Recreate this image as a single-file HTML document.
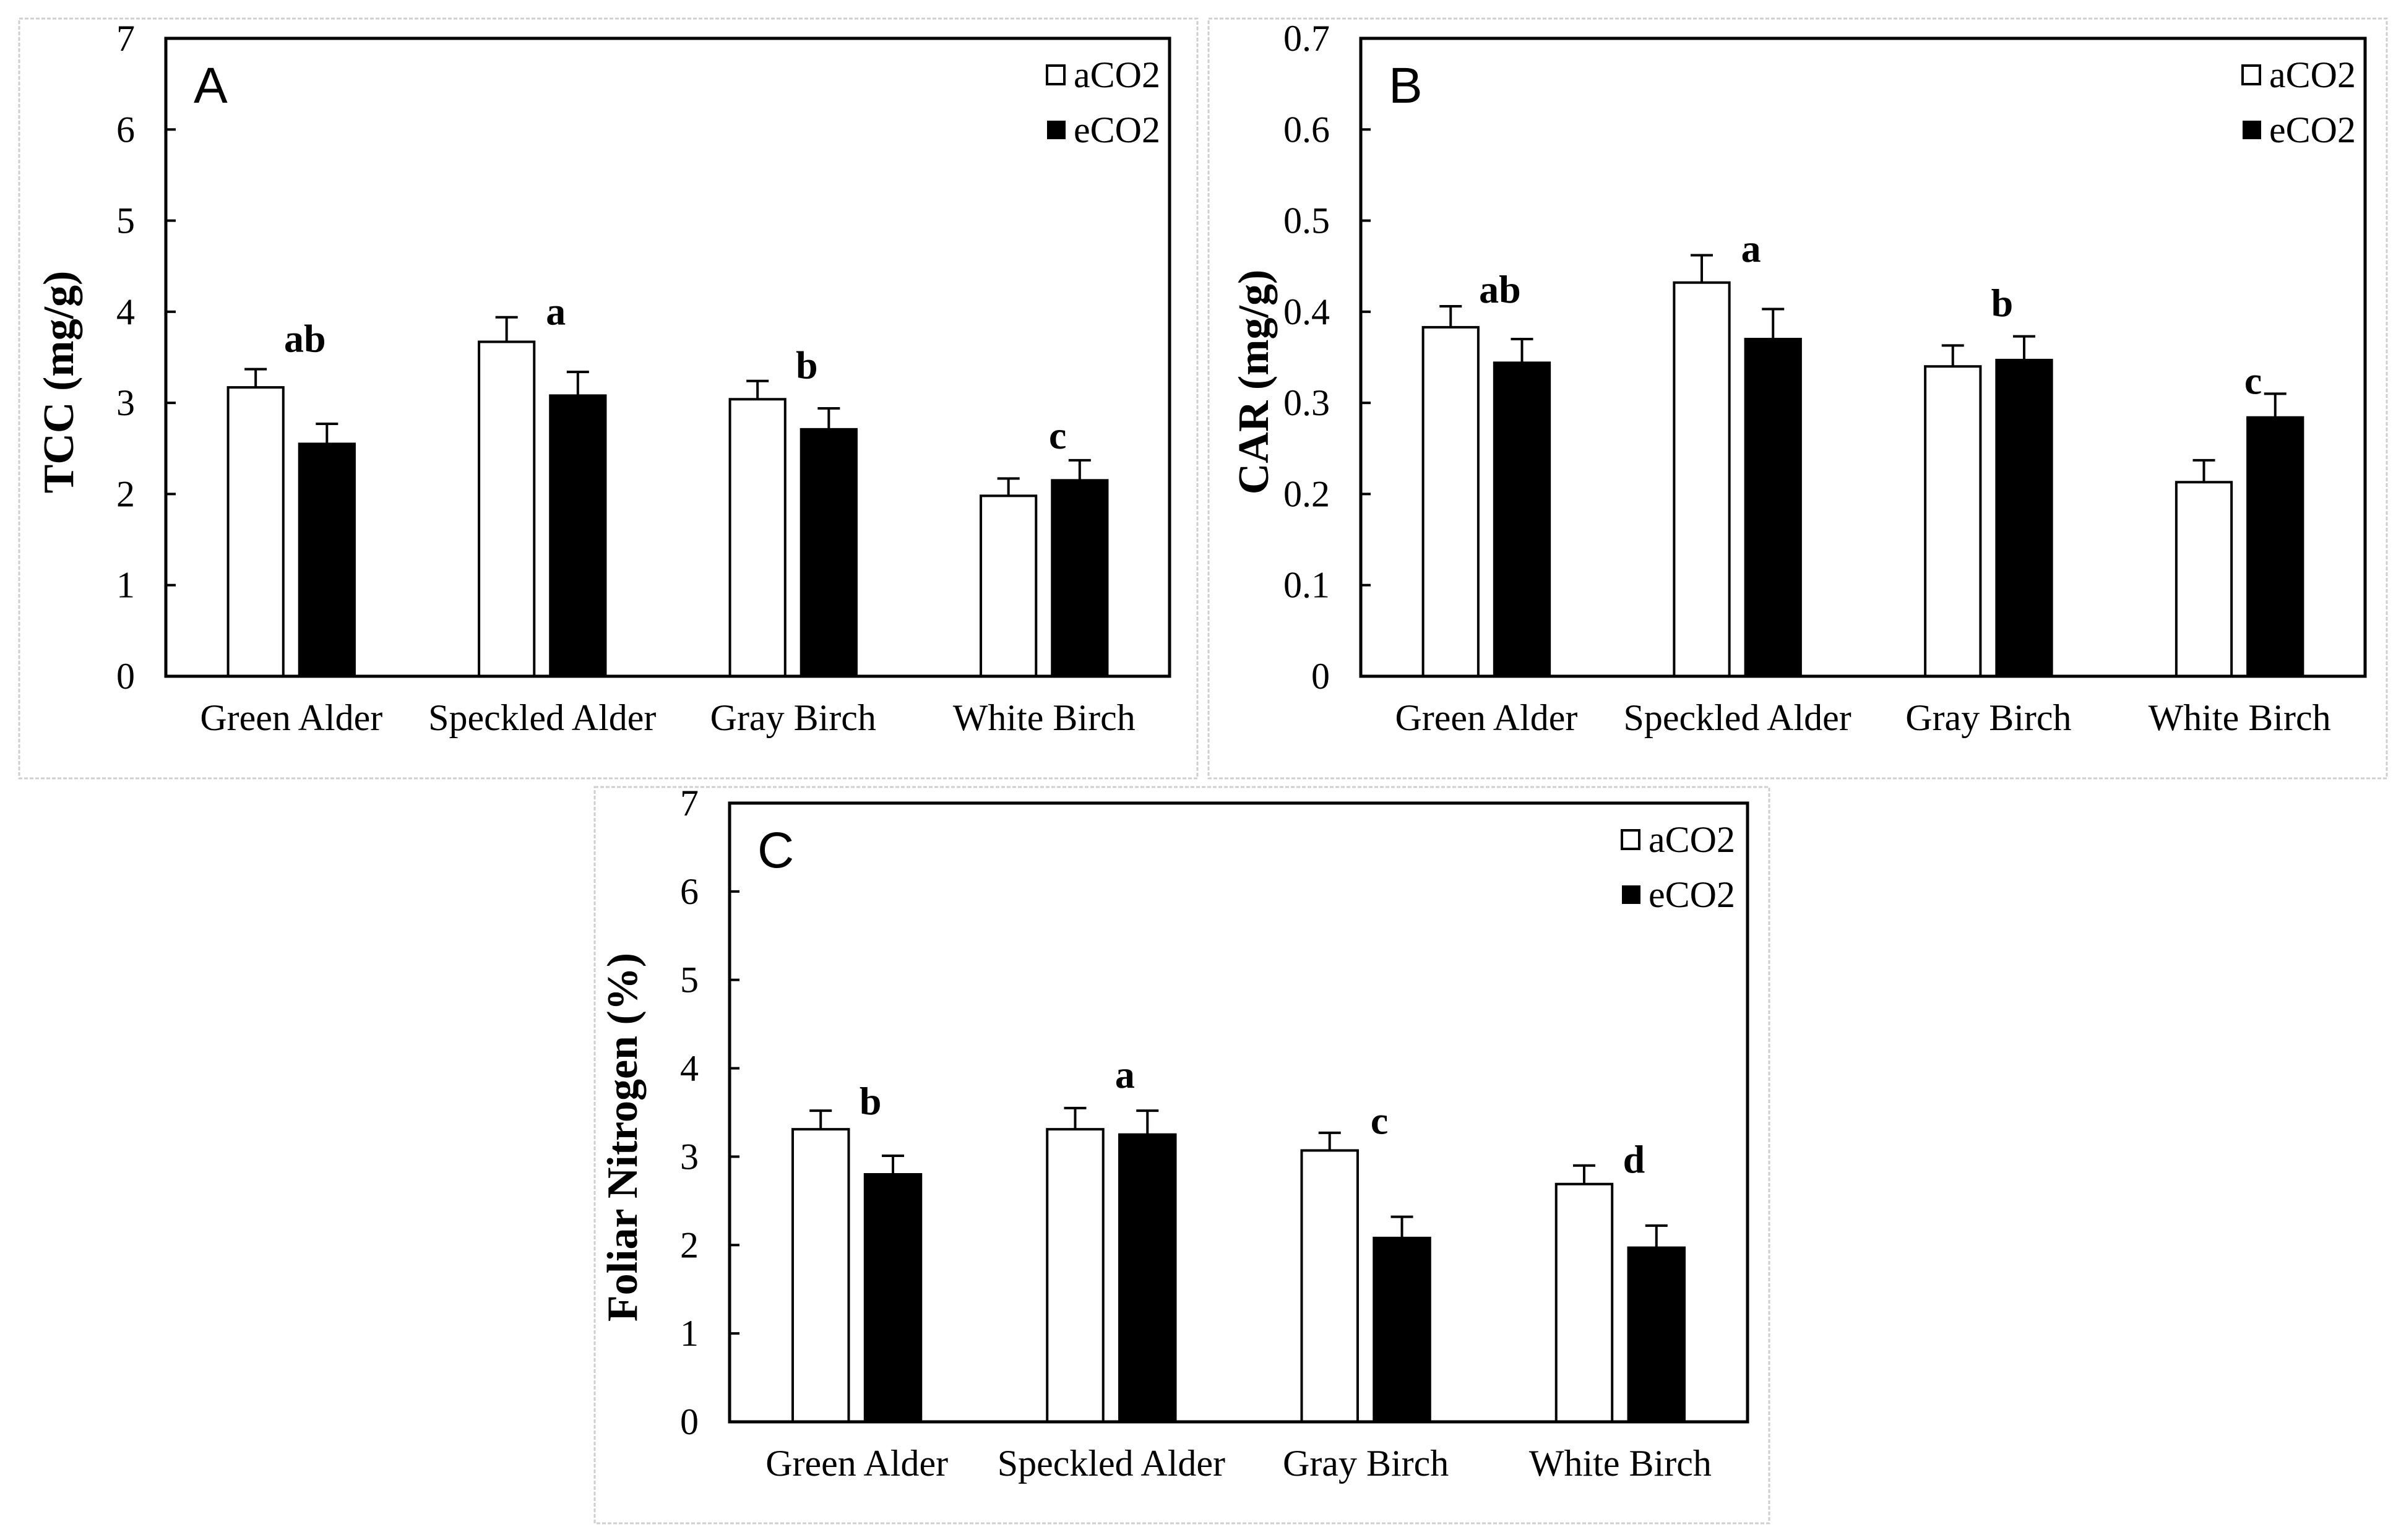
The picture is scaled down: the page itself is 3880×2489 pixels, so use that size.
<!DOCTYPE html>
<html><head><meta charset="utf-8"><style>
html,body{margin:0;padding:0;background:#fff;}
svg{display:block;}
text{font-family:"Liberation Serif",serif;fill:#000;}
</style></head><body>
<svg id="fig" width="3880" height="2489" viewBox="0 0 3880 2489" xmlns="http://www.w3.org/2000/svg"></svg>
<script>
const categories = ["Green Alder","Speckled Alder","Gray Birch","White Birch"];
const seriesNames = ["aCO2","eCO2"];
// Panel A: TCC
const tccA = [3.17,3.67,3.04,1.98];
const tccE = [2.55,3.08,2.71,2.15];
const tccAerr = [0.20,0.27,0.20,0.19];
const tccEerr = [0.22,0.26,0.23,0.22];
const tccLetters = ["ab","a","b","c"];
const tccLetterY = [3.56,3.86,3.27,2.50];
const tccTicks = ["0","1","2","3","4","5","6","7"];
// Panel B: CAR
const carA = [0.383,0.432,0.340,0.213];
const carE = [0.344,0.370,0.347,0.284];
const carAerr = [0.023,0.030,0.023,0.024];
const carEerr = [0.026,0.033,0.026,0.026];
const carLetters = ["ab","a","b","c"];
const carLetterY = [0.41,0.455,0.395,0.31];
const carTicks = ["0","0.1","0.2","0.3","0.4","0.5","0.6","0.7"];
// Panel C: Foliar N
const nitA = [3.31,3.31,3.07,2.69];
const nitE = [2.80,3.25,2.08,1.97];
const nitAerr = [0.21,0.24,0.20,0.21];
const nitEerr = [0.21,0.27,0.24,0.25];
const nitLetters = ["b","a","c","d"];
const nitLetterY = [3.48,3.78,3.26,2.82];
const nitTicks = ["0","1","2","3","4","5","6","7"];

const NS="http://www.w3.org/2000/svg";
const svg=document.getElementById('fig');
function mk(tag,attrs,parent,txt){const e=document.createElementNS(NS,tag);for(const k in attrs)e.setAttribute(k,attrs[k]);if(txt!==undefined)e.textContent=txt;(parent||svg).appendChild(e);return e;}

function panel(cfg){
  const g=mk('g',{});
  
  
  const fr=mk('rect',{x:cfg.frame[0],y:cfg.frame[1],width:cfg.frame[2]-cfg.frame[0],height:cfg.frame[3]-cfg.frame[1],fill:'#fff',stroke:'#cfcfcf','stroke-width':3,'stroke-dasharray':'6 3'},g);
  
  
  const L=cfg.L,R=cfg.R,T=cfg.T,B=cfg.B,max=cfg.max;
  const y=v=>B-(v/max)*(B-T);
  const G=(R-L)/categories.length;
  const xc=i=>L+G*(i+0.5);
  const bw=G*0.22, gap=G*0.064;
  cfg.ticks.forEach((t,i)=>{
    const v=parseFloat(t);const yy=y(v);
    const tk=mk('line',{x1:L,x2:L+16,y1:yy,y2:yy,stroke:'#000','stroke-width':4},g);
    
    
    const tl=mk('text',{x:L-50,y:yy+20,'font-size':60,'text-anchor':'end',fill:'#333'},g,t);
    
    
  });
  categories.forEach((c,i)=>{
    const cx=xc(i);
    const specs=[[cfg.a[i],cfg.aerr[i],cx-gap/2-bw,'#fff','bar-aco2'],[cfg.e[i],cfg.eerr[i],cx+gap/2,'#000','bar-eco2']];
    specs.forEach(s=>{
      const top=y(s[0]),et=y(s[0]+s[1]),mx=s[2]+bw/2;
      const el=mk('line',{x1:mx,x2:mx,y1:top,y2:et,stroke:'#000','stroke-width':4},g);
      
      
      const ec=mk('line',{x1:mx-18,x2:mx+18,y1:et,y2:et,stroke:'#000','stroke-width':4},g);
      
      
      const r=mk('rect',{x:s[2],y:top,width:bw,height:B-top,fill:s[3],stroke:'#000','stroke-width':4},g);
      
      
    });
    const lt=mk('text',{x:cx+22,y:y(cfg.letterY[i]),'font-size':64,'font-weight':'bold','text-anchor':'middle'},g,cfg.letters[i]);
    
    
    const cl=mk('text',{x:cx,y:B+87,'font-size':60,'text-anchor':'middle',fill:'#222'},g,c);
    
    
  });
  const ax=mk('rect',{x:L,y:T,width:R-L,height:B-T,fill:'none',stroke:'#000','stroke-width':5},g);
  
  
  const pl=mk('text',{x:L+45,y:T+104,'font-size':82,style:'font-family:"Liberation Sans",sans-serif'},g,cfg.letter);
  
  
  const lx=R-cfg.legOff;
  const s1=mk('rect',{x:lx,y:T+44,width:28,height:30,fill:'#fff',stroke:'#000','stroke-width':4},g);
  
  
  const t1=mk('text',{x:lx+43,y:T+79,'font-size':60,fill:'#222'},g,seriesNames[0]);
  
  
  const s2=mk('rect',{x:lx,y:T+133,width:30,height:30,fill:'#000'},g);
  
  
  const t2=mk('text',{x:lx+43,y:T+168,'font-size':60,fill:'#222'},g,seriesNames[1]);
  
  
  const ty=mk('text',{x:0,y:0,'font-size':70,'font-weight':'bold','text-anchor':'middle',transform:`translate(${L-150},${(T+B)/2+40}) rotate(-90)`},g,cfg.title);
  
  
}

panel({name:'panel-a-tcc',frame:[31,30,1935,1258],L:268,R:1890,T:62,B:1093,max:7,ticks:tccTicks,a:tccA,e:tccE,aerr:tccAerr,eerr:tccEerr,letters:tccLetters,letterY:tccLetterY,letter:'A',legOff:198,title:'TCC (mg/g)'});
panel({name:'panel-b-car',frame:[1953,30,3857,1258],L:2199,R:3822,T:62,B:1093,max:0.7,ticks:carTicks,a:carA,e:carE,aerr:carAerr,eerr:carEerr,letters:carLetters,letterY:carLetterY,letter:'B',legOff:198,title:'CAR (mg/g)'});
panel({name:'panel-c-nitrogen',frame:[961,1272,2859,2462],L:1179,R:2824,T:1298,B:2298,max:7,ticks:nitTicks,a:nitA,e:nitE,aerr:nitAerr,eerr:nitEerr,letters:nitLetters,letterY:nitLetterY,letter:'C',legOff:203,title:'Foliar Nitrogen (%)'});
</script>
</body></html>
